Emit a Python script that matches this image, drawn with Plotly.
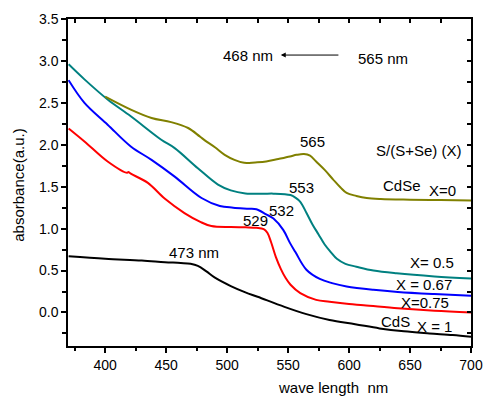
import plotly.graph_objects as go

# ---- data ----
cds_x = [370, 400, 430, 449, 462, 470, 476, 483, 490, 503, 515, 525, 547, 565, 584, 605, 625, 645, 666, 685, 700]
cds_y = [0.67, 0.64, 0.62, 0.60, 0.59, 0.58, 0.555, 0.49, 0.415, 0.315, 0.24, 0.187, 0.067, -0.02, -0.09, -0.14, -0.19, -0.225, -0.25, -0.27, -0.29]

x075_x = [370, 383, 402, 418, 419, 421, 435, 449, 465, 478, 487, 503, 515, 524, 530, 533, 536, 540, 544, 548, 552, 560, 573, 584, 600, 612, 640, 670, 700]
x075_y = [2.195, 2.04, 1.80, 1.665, 1.675, 1.655, 1.545, 1.355, 1.185, 1.08, 1.03, 1.018, 1.015, 1.01, 0.995, 0.95, 0.84, 0.66, 0.52, 0.41, 0.33, 0.23, 0.15, 0.127, 0.10, 0.087, 0.05, 0.02, 0.0]

x067_x = [370, 383, 402, 421, 438, 457, 479, 494, 505, 518, 524, 532, 538, 546, 551.5, 556, 565, 576, 586, 598, 620, 640, 670, 700]
x067_y = [2.77, 2.50, 2.24, 1.98, 1.82, 1.62, 1.365, 1.27, 1.25, 1.237, 1.23, 1.17, 1.12, 0.985, 0.83, 0.72, 0.51, 0.40, 0.35, 0.31, 0.27, 0.245, 0.22, 0.20]

x05_x = [370, 383, 402, 421, 446, 457, 476, 492.5, 503, 515, 529, 538, 552, 556, 560, 565, 570, 575, 580, 585, 590, 597, 606, 620, 639, 670, 700]
x05_y = [2.96, 2.78, 2.54, 2.34, 2.06, 1.96, 1.72, 1.525, 1.456, 1.42, 1.415, 1.417, 1.40, 1.37, 1.32, 1.19, 1.05, 0.93, 0.81, 0.72, 0.64, 0.58, 0.546, 0.50, 0.467, 0.43, 0.405]

cdse_x = [400, 421, 438, 454, 468, 477.5, 482, 490, 498, 506, 514, 523, 532, 542, 551.5, 557, 563, 568, 573, 580, 587, 593, 598, 606, 614.5, 626, 650, 675, 700]
cdse_y = [2.575, 2.42, 2.32, 2.27, 2.20, 2.10, 2.05, 1.97, 1.88, 1.82, 1.785, 1.79, 1.80, 1.83, 1.86, 1.88, 1.89, 1.87, 1.80, 1.70, 1.585, 1.49, 1.425, 1.39, 1.365, 1.353, 1.345, 1.34, 1.336]

series = [
    (cds_x, cds_y, "black"),
    (x075_x, x075_y, "#FF0000"),
    (x067_x, x067_y, "#0000FF"),
    (x05_x, x05_y, "#008080"),
    (cdse_x, cdse_y, "#808000"),
]

labels = [
    ("468 nm", 517, 3.06),
    ("565 nm", 627.5, 3.03),
    ("565", 570, 2.04),
    ("S/(S+Se) (X)", 656.7, 1.93),
    ("553", 561.3, 1.49),
    ("532", 544.5, 1.22),
    ("529", 523.1, 1.10),
    ("CdSe", 643.1, 1.51),
    ("X=0", 676.4, 1.46),
    ("X= 0.5", 668.2, 0.60),
    ("X = 0.67", 661.6, 0.33),
    ("X=0.75", 662.0, 0.117),
    ("CdS", 637.8, -0.104),
    ("X = 1", 669.8, -0.164),
    ("473 nm", 473, 0.716),
]

FONT = "Liberation Sans, Arial, sans-serif"

fig = go.Figure()
for xs, ys, c in series:
    fig.add_trace(go.Scatter(x=xs, y=ys, mode="lines",
                             line=dict(color=c, width=2, shape="spline", smoothing=1.0),
                             showlegend=False, hoverinfo="skip"))
# dummy trace for mirrored (top/right) axes
fig.add_trace(go.Scatter(x=[500], y=[1], xaxis="x2", yaxis="y2", mode="markers",
                         marker=dict(opacity=0), showlegend=False, hoverinfo="skip"))

XR = [369.5, 700]
YR = [-0.4, 3.5]

fig.update_layout(
    width=485, height=400,
    margin=dict(l=68, r=14, t=19, b=54, autoexpand=False),
    paper_bgcolor="white", plot_bgcolor="white",
    font=dict(family=FONT, size=14, color="black"),
    xaxis=dict(range=XR, dtick=50, tick0=400, ticks="outside", ticklen=5, tickwidth=1.5,
               tickcolor="black", showline=True, linecolor="black", linewidth=1.5,
               showgrid=False, zeroline=False, automargin=False,
               minor=dict(dtick=25, tick0=375, ticks="outside", ticklen=3, tickcolor="black", tickwidth=1.5),
               tickfont=dict(size=14)),
    yaxis=dict(range=YR, dtick=0.5, tick0=0, tickformat=".1f", ticks="outside", ticklen=5, tickwidth=1.5,
               tickcolor="black", showline=True, linecolor="black", linewidth=1.5,
               showgrid=False, zeroline=False, automargin=False,
               minor=dict(dtick=0.25, ticks="outside", ticklen=4, tickcolor="black", tickwidth=1.5),
               tickfont=dict(size=14)),
    xaxis2=dict(range=XR, overlaying="x", side="top", anchor="y", dtick=25, tick0=375,
                ticks="inside", ticklen=4, tickwidth=1.5, tickcolor="black", showticklabels=False,
                showline=True, linecolor="black", linewidth=1.5, showgrid=False, zeroline=False,
                automargin=False),
    yaxis2=dict(range=YR, overlaying="y", side="right", anchor="x", dtick=0.25, tick0=0,
                ticks="inside", ticklen=4, tickwidth=1.5, tickcolor="black", showticklabels=False,
                showline=True, linecolor="black", linewidth=1.5, showgrid=False, zeroline=False,
                automargin=False),
)

for t, x, y in labels:
    fig.add_annotation(x=x, y=y, text=t, showarrow=False, xref="x", yref="y",
                       font=dict(family=FONT, size=15, color="black"))

# arrow 565 nm -> 468 nm
fig.add_annotation(x=544, y=3.07, ax=592.5, ay=3.07, xref="x", yref="y", axref="x", ayref="y",
                   text="", showarrow=True, arrowhead=2, arrowsize=1, arrowwidth=1, arrowcolor="black")

# axis titles
fig.add_annotation(text="absorbance(a.u.)", xref="paper", yref="paper", x=-0.125, y=0.492,
                   textangle=-90, showarrow=False, xanchor="center", yanchor="middle",
                   font=dict(family=FONT, size=15, color="black"))
fig.add_annotation(text="wave length\u00a0\u00a0nm", xref="paper", yref="paper", x=0.657, y=-0.128,
                   showarrow=False, xanchor="center", yanchor="middle",
                   font=dict(family=FONT, size=15, color="black"))

fig.write_html("out.html")
